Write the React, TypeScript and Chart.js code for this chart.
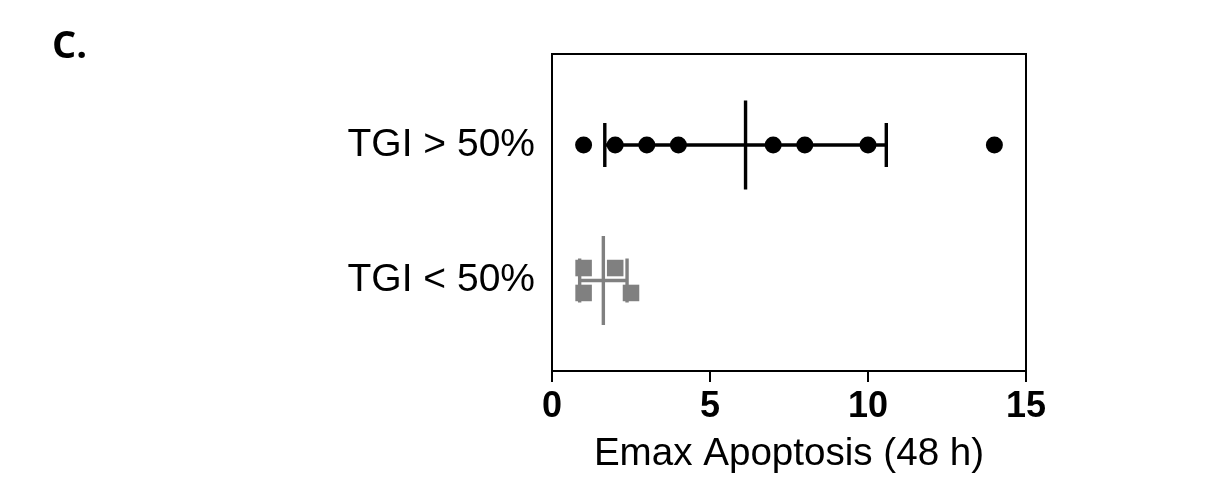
import React, { useEffect, useRef } from "react";
import { Chart, registerables } from "chart.js";

Chart.register(...registerables);

const categories = ["TGI > 50%", "TGI < 50%"];
const categoryPositions = [1, 0];
const highTGIValues = [1, 2, 3, 4, 7, 8, 10, 14];
const lowTGIValues = [1, 2, 1, 2.5];
const lowTGIRows = [1, 1, -1, -1];
const xTickValues = [0, 5, 10, 15];
const panelLabel = "C.";
const xTitle = "Emax Apoptosis (48 h)";

const ROW_OFFSET = 0.092;
const BLACK = "#000000";
const GRAY = "#808080";
const FONT = '"Liberation Sans", Arial, sans-serif';

function meanSd(v: number[]) {
  const m = v.reduce((a, b) => a + b, 0) / v.length;
  const s = Math.sqrt(v.reduce((a, b) => a + (b - m) * (b - m), 0) / (v.length - 1));
  return { m, s };
}

const errorBarPlugin = {
  id: "errorBars",
  beforeDatasetsDraw(chart: any) {
    const { ctx, scales } = chart;
    const xs = scales.x;
    const ys = scales.y;
    const groups = [
      { values: highTGIValues, y: categoryPositions[0], color: BLACK },
      { values: lowTGIValues, y: categoryPositions[1], color: GRAY },
    ];
    ctx.save();
    groups.forEach((g) => {
      const { m, s } = meanSd(g.values);
      const yc = ys.getPixelForValue(g.y);
      const xm = xs.getPixelForValue(m);
      const xl = xs.getPixelForValue(m - s);
      const xr = xs.getPixelForValue(m + s);
      ctx.strokeStyle = g.color;
      ctx.lineWidth = 3.4;
      ctx.beginPath();
      ctx.moveTo(xl, yc);
      ctx.lineTo(xr, yc);
      ctx.moveTo(xl, yc - 22);
      ctx.lineTo(xl, yc + 22);
      ctx.moveTo(xr, yc - 22);
      ctx.lineTo(xr, yc + 22);
      ctx.moveTo(xm, yc - 44.5);
      ctx.lineTo(xm, yc + 44.5);
      ctx.stroke();
    });
    ctx.restore();
  },
  afterDraw(chart: any) {
    const { ctx, chartArea } = chart;
    ctx.save();
    ctx.strokeStyle = BLACK;
    ctx.lineWidth = 2;
    ctx.strokeRect(chartArea.left, chartArea.top, chartArea.right - chartArea.left, chartArea.bottom - chartArea.top);
    ctx.fillStyle = BLACK;
    ctx.font = 'bold 38px "Open Sans", sans-serif';
    ctx.textBaseline = "alphabetic";
    ctx.textAlign = "left";
    ctx.fillText(panelLabel, 52, 58);
    ctx.restore();
  },
};

export default function App() {
  const ref = useRef<HTMLCanvasElement | null>(null);
  useEffect(() => {
    if (!ref.current) return;
    const chart = new Chart(ref.current, {
      type: "scatter",
      data: {
        datasets: [
          {
            label: categories[0],
            data: highTGIValues.map((x) => ({ x, y: categoryPositions[0] })),
            pointStyle: "circle",
            pointRadius: 8.5,
            pointBackgroundColor: BLACK,
            pointBorderColor: BLACK,
            pointBorderWidth: 0,
          },
          {
            label: categories[1],
            data: lowTGIValues.map((x, i) => ({ x, y: categoryPositions[1] + lowTGIRows[i] * ROW_OFFSET })),
            pointStyle: "rect",
            pointRadius: 11.7,
            pointBackgroundColor: GRAY,
            pointBorderColor: GRAY,
            pointBorderWidth: 0,
          },
        ],
      },
      options: {
        animation: false,
        responsive: true,
        maintainAspectRatio: false,
        layout: { padding: { left: 0, right: 191, top: 54, bottom: 0 } },
        plugins: { legend: { display: false }, tooltip: { enabled: false } },
        scales: {
          x: {
            type: "linear",
            min: 0,
            max: 15,
            afterBuildTicks: (s: any) => {
              s.ticks = xTickValues.map((v) => ({ value: v }));
            },
            afterFit: (s: any) => {
              s.height = 110;
            },
            ticks: {
              color: BLACK,
              font: { family: FONT, size: 36, weight: "bold" },
              padding: 3,
              maxRotation: 0,
            },
            grid: {
              display: true,
              drawOnChartArea: false,
              drawTicks: true,
              tickLength: 11,
              lineWidth: 2,
              color: BLACK,
            },
            border: { display: false },
            title: {
              display: true,
              text: xTitle,
              color: BLACK,
              font: { family: FONT, size: 38.6 },
              padding: { top: 0, bottom: 3 },
            },
          },
          y: {
            type: "linear",
            min: -0.668,
            max: 1.6716,
            afterBuildTicks: (s: any) => {
              s.ticks = categoryPositions.map((v) => ({ value: v }));
            },
            afterFit: (s: any) => {
              s.width = 552;
            },
            ticks: {
              color: BLACK,
              font: { family: FONT, size: 39 },
              padding: 17,
              callback: (v: any) => categories[categoryPositions.indexOf(Number(v))],
            },
            grid: { display: false, drawTicks: false },
            border: { display: false },
          },
        },
      },
      plugins: [errorBarPlugin],
    } as any);
    return () => chart.destroy();
  }, []);
  return (
    <div style={{ position: "absolute", left: 0, top: 0, width: 1217, height: 481, background: "#fff" }}>
      <canvas ref={ref} />
    </div>
  );
}
